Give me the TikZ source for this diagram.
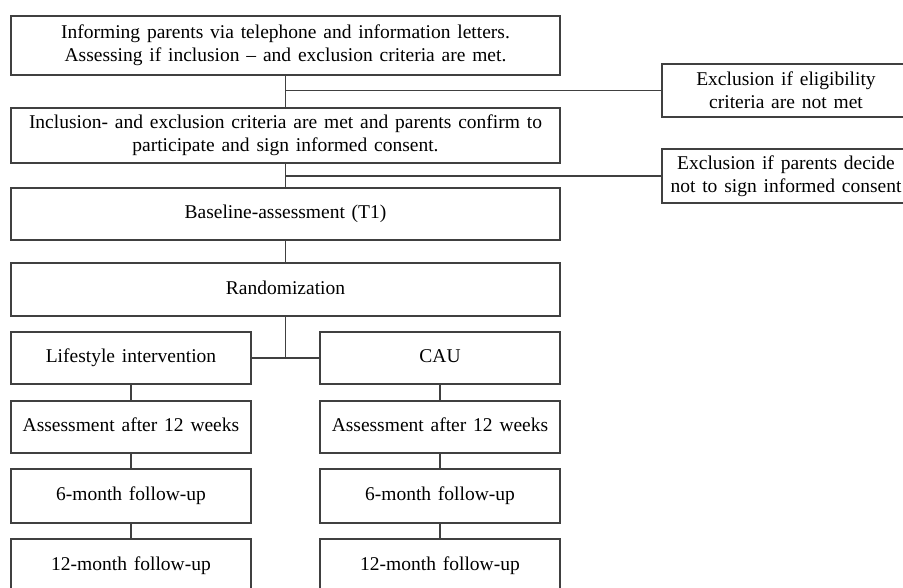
\documentclass[tikz,border=0pt]{standalone}
\usepackage{fontspec}
\setmainfont[WordSpace=1.4]{Liberation Serif}
\begin{document}
\begin{tikzpicture}[x=1pt, y=-1pt,
  box/.style={draw=black!75, line width=1.2pt, inner sep=0pt,
    outer sep=0pt, font=\fontsize{19.5}{23}\selectfont},
  one/.style={text height=1.15em, text depth=0.22em},
  two/.style={align=center, execute at begin node={\rule{0pt}{22.5pt}}},
  wide/.style={box, minimum width=549pt},
  half/.style={box, one, minimum width=240pt},
  side/.style={box, two, minimum width=248pt},
  link/.style={draw=black!75, line width=1.2pt}]
  \useasboundingbox (0,0) rectangle (903,588);
  \clip (0,0) rectangle (903,588);
  % main column
  \node[wide, two, minimum height=59pt] (inform) at (285.5,45.5)
    {Informing parents via telephone and information letters.\\
     Assessing if inclusion -- and exclusion criteria are met.};
  \node[wide, two, minimum height=55pt] (include) at (285.5,135.5)
    {Inclusion- and exclusion criteria are met and parents confirm to\\
     participate and sign informed consent.};
  \node[wide, one, minimum height=52pt] (base) at (285.5,214) {Baseline-assessment (T1)};
  \node[wide, one, minimum height=53pt] (rand) at (285.5,289.5) {Randomization};
  % exclusions
  \node[side, minimum height=53pt] (exclA) at (786,90.5)
    {Exclusion if eligibility\\ criteria are not met};
  \node[side, minimum height=54pt] (exclB) at (786,176)
    {Exclusion if parents decide\\ not to sign informed consent};
  % two arms
  \node[half, minimum height=52pt] (life) at (131,358) {Lifestyle intervention};
  \node[half, minimum height=52pt] (cau) at (440,358) {CAU};
  \node[half, minimum height=52pt] (assA) at (131,427) {Assessment after 12 weeks};
  \node[half, minimum height=52pt] (assB) at (440,427) {Assessment after 12 weeks};
  \node[half, minimum height=54pt] (sixA) at (131,496) {6-month follow-up};
  \node[half, minimum height=54pt] (sixB) at (440,496) {6-month follow-up};
  \node[half, minimum height=54pt] (twelveA) at (131,566) {12-month follow-up};
  \node[half, minimum height=54pt] (twelveB) at (440,566) {12-month follow-up};
  % connectors
  \draw[link] (inform) -- (include);
  \draw[link] (inform.south |- exclA.west) -- (exclA.west);
  \draw[link] (include) -- (base);
  \draw[link] (include.south |- exclB.west) -- (exclB.west);
  \draw[link] (base) -- (rand);
  \draw[link] (rand.south) -- (rand.south |- life.east);
  \draw[link] (life.east) -- (cau.west);
  \draw[link] (life) -- (assA) -- (sixA) -- (twelveA);
  \draw[link] (cau) -- (assB) -- (sixB) -- (twelveB);
\end{tikzpicture}
\end{document}
